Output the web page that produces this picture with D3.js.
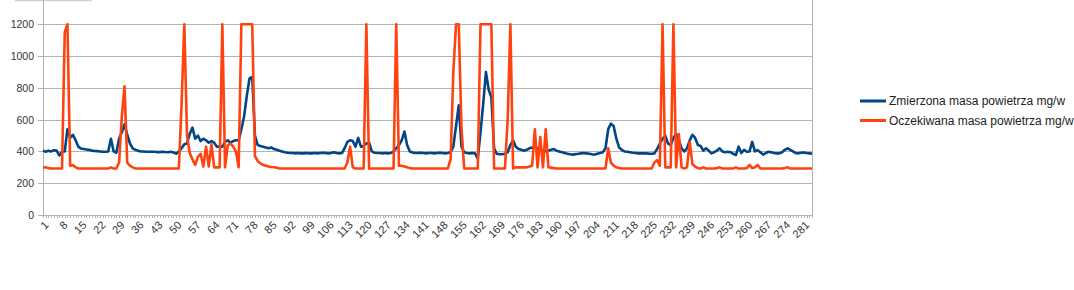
<!DOCTYPE html>
<html>
<head>
<meta charset="utf-8">
<script src="https://cdn.jsdelivr.net/npm/d3@7"></script>
<style>
  html, body { margin: 0; padding: 0; background: #fff; }
  svg { display: block; font-family: "Liberation Sans", Arial, sans-serif; }
</style>
</head>
<body>
<svg id="chart" width="1074" height="290"></svg>
<script>
// Series (one value per sample, 284 samples)
const measured = [
  405, 398, 405, 400, 408, 405, 375, 398, 400, 540,
  485, 505, 470, 430, 418, 415, 412, 410, 405, 403,
  402, 400, 398, 398, 400, 480, 400, 392, 480, 520,
  570, 505, 450, 420, 410, 405, 400, 400, 398, 398,
  398, 398, 396, 396, 398, 396, 395, 398, 393, 386,
  400, 420, 445, 450, 510, 550, 480, 500, 465, 480,
  470, 455, 465, 455, 430, 430, 430, 460, 470, 455,
  465, 470, 470, 540, 620, 750, 860, 870, 500, 440,
  435, 430, 425, 420, 425, 415, 410, 405, 400, 395,
  392, 390, 390, 388, 390, 388, 388, 390, 388, 388,
  390, 388, 390, 392, 390, 388, 390, 395, 390, 388,
  390, 420, 460, 470, 465, 430, 485, 430, 435, 450,
  455, 400, 392, 390, 390, 388, 390, 388, 390, 400,
  420, 440, 470, 525, 440, 400, 393, 390, 390, 392,
  390, 388, 390, 390, 388, 390, 392, 390, 388, 390,
  395, 430, 560, 690, 430, 395, 390, 388, 390, 388,
  355, 520, 700, 900, 790, 740, 420, 385, 382, 382,
  385, 395, 440, 470, 430, 415, 410, 405, 410, 420,
  425, 425, 420, 410, 405, 400, 405, 410, 415, 405,
  400, 395, 390, 385, 382, 380, 383, 385, 388, 390,
  388, 385, 382, 380, 385, 390, 395, 420, 540, 575,
  560, 480, 425, 410, 400, 398, 395, 392, 390, 388,
  388, 388, 388, 386, 385, 388, 415, 450, 480, 500,
  450, 440, 485, 510, 470, 420, 400, 420, 470, 505,
  485, 440, 435, 405, 420, 405, 388, 395, 405, 420,
  400, 395, 398, 395, 385, 378, 430, 390, 410, 398,
  400, 460, 400, 408, 395, 380, 390, 398, 395, 390,
  388, 388, 395, 410, 420, 410, 400, 390, 388, 392,
  393, 390, 388, 386
];
const expected = [
  300, 300, 295, 293, 293, 293, 293, 293, 1150, 1200,
  310, 315, 300, 293, 293, 293, 293, 293, 293, 293,
  293, 293, 293, 293, 293, 300, 293, 293, 330, 620,
  810, 330, 310, 300, 293, 293, 293, 293, 293, 293,
  293, 293, 293, 293, 293, 293, 293, 293, 293, 293,
  293, 700, 1200, 500, 390, 350, 315, 365, 385, 305,
  430, 305, 445, 300, 300, 300, 1200, 300, 440, 450,
  430, 400, 300, 1200, 1200, 1200, 1200, 1200, 370, 340,
  325, 315, 310, 305, 302, 300, 298, 293, 293, 293,
  293, 293, 293, 293, 293, 293, 293, 293, 293, 293,
  293, 293, 293, 293, 293, 293, 293, 293, 293, 293,
  293, 293, 330, 430, 300, 293, 293, 293, 293, 1200,
  293, 293, 293, 293, 293, 293, 293, 293, 293, 293,
  1200, 310, 310, 305, 300, 295, 293, 293, 293, 293,
  293, 293, 293, 293, 293, 293, 293, 293, 293, 293,
  350, 900, 1200, 1200, 550, 293, 293, 293, 293, 293,
  293, 1200, 1200, 1200, 1200, 1200, 293, 293, 293, 293,
  293, 600, 1200, 293, 300, 300, 300, 300, 300, 305,
  310, 540, 300, 490, 300, 540, 300, 298, 295, 293,
  293, 293, 293, 293, 293, 293, 293, 293, 293, 293,
  293, 293, 293, 293, 293, 293, 293, 293, 420, 330,
  310, 300, 295, 293, 293, 293, 293, 293, 293, 293,
  293, 293, 293, 293, 293, 330, 345, 310, 1200, 300,
  300, 300, 1200, 300, 510, 300, 293, 300, 460, 320,
  305, 295, 293, 300, 293, 293, 293, 293, 295, 300,
  293, 293, 293, 293, 293, 300, 293, 293, 293, 295,
  315, 295, 300, 315, 293, 293, 293, 293, 293, 293,
  293, 293, 293, 295, 300, 293, 293, 293, 293, 293,
  293, 293, 293, 293
];
const tickLabels = [1, 8, 15, 22, 29, 36, 43, 50, 57, 64, 71, 78, 85, 92, 99, 106, 113, 120,
  127, 134, 141, 148, 155, 162, 169, 176, 183, 190, 197, 204, 211, 218, 225, 232, 239, 246,
  253, 260, 267, 274, 281];
const yTicks = [0, 200, 400, 600, 800, 1000, 1200, 1400];
const seriesNames = ['Zmierzona masa powietrza mg/w', 'Oczekiwana masa powietrza mg/w'];
const seriesColors = ['#004586', '#ff420e'];

const categories = measured.map((d, i) => i + 1);

const svg = d3.select('#chart');
const plotLeft = 43, plotRight = 812, plotBottom = 215, pxPer200 = 31.78;

const x = d3.scalePoint().domain(categories).range([plotLeft, plotRight]);
const y = d3.scaleLinear().domain([0, 1400]).range([plotBottom, plotBottom - 7 * pxPer200]);

// faint box edge cut off at the top left
svg.append('line').attr('x1', 15).attr('x2', 92).attr('y1', 0.5).attr('y2', 0.5)
  .attr('stroke', '#d0d0d0').attr('stroke-width', 1.5);

// horizontal grid
svg.append('g')
  .attr('transform', `translate(${plotLeft},0)`)
  .call(d3.axisLeft(y).tickValues(yTicks).tickSize(-(plotRight - plotLeft)).tickFormat(''))
  .call(g => g.select('.domain').remove())
  .call(g => g.selectAll('line').attr('stroke', '#b3b3b3').attr('shape-rendering', 'crispEdges'));

// y axis with labels
svg.append('g')
  .attr('transform', `translate(${plotLeft},0)`)
  .call(d3.axisLeft(y).tickValues(yTicks.filter(v => v <= 1200)).tickFormat(d3.format('d'))
    .tickSize(5).tickPadding(4).tickSizeOuter(0))
  .call(g => g.select('.domain').attr('d', `M0,${plotBottom}V0`))
  .call(g => g.selectAll('line, .domain').attr('stroke', '#b3b3b3').attr('shape-rendering', 'crispEdges'))
  .call(g => g.selectAll('text').attr('fill', '#333').style('font-size', '10.5px')
    .style('font-family', '"Liberation Sans", Arial, sans-serif'));

// right border of the plot area
svg.append('line').attr('x1', plotRight).attr('x2', plotRight).attr('y1', 0).attr('y2', plotBottom)
  .attr('stroke', '#b3b3b3').attr('shape-rendering', 'crispEdges');

// x axis: a minor tick per sample, label every 7th
const xAxis = svg.append('g')
  .attr('transform', `translate(0,${plotBottom})`)
  .call(d3.axisBottom(x).tickSize(3).tickSizeOuter(0).tickFormat(d => tickLabels.includes(d) ? d : ''))
  .call(g => g.select('.domain').attr('d', `M${plotLeft - 5},0H${plotRight}`))
  .call(g => g.selectAll('line, .domain').attr('stroke', '#b3b3b3').attr('shape-rendering', 'crispEdges'));
xAxis.selectAll('text')
  .attr('fill', '#333')
  .style('font-size', '11px')
  .style('font-family', '"Liberation Sans", Arial, sans-serif')
  .attr('text-anchor', 'end')
  .attr('y', 0).attr('dy', '0.35em')
  .attr('transform', 'translate(3,8) rotate(-45)');

// lines
const line = d3.line().x((d, i) => x(categories[i])).y(d => y(d));
[measured, expected].forEach((values, s) => {
  svg.append('path')
    .datum(values)
    .attr('d', line)
    .attr('fill', 'none')
    .attr('stroke', seriesColors[s])
    .attr('stroke-width', 2.6)
    .attr('stroke-linejoin', 'round');
});

// legend
const legend = svg.append('g').attr('transform', 'translate(860,101)');
seriesNames.forEach((name, s) => {
  const row = legend.append('g').attr('transform', `translate(0,${s * 19.5})`);
  row.append('line').attr('x1', 0).attr('x2', 26).attr('y1', 0).attr('y2', 0)
    .attr('stroke', seriesColors[s]).attr('stroke-width', 3);
  row.append('text').attr('x', 29).attr('dy', '0.35em')
    .style('font-size', '12px').attr('fill', '#222').text(name);
});
</script>
</body>
</html>
